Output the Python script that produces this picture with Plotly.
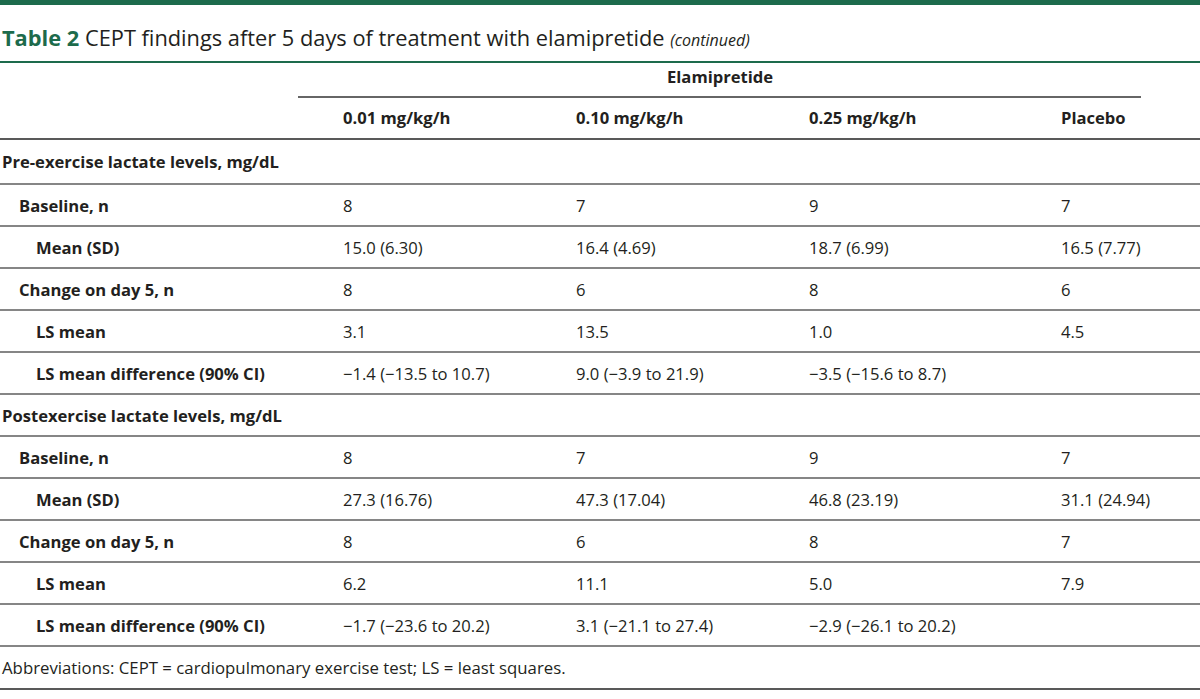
import plotly.graph_objects as go

# ---- data ----
title_label = "Table 2"
title_text = "CEPT findings after 5 days of treatment with elamipretide"
title_note = "(continued)"
group_header = "Elamipretide"
col_headers = ["0.01 mg/kg/h", "0.10 mg/kg/h", "0.25 mg/kg/h", "Placebo"]
row_labels = [
    "Pre-exercise lactate levels, mg/dL",
    "Baseline, n",
    "Mean (SD)",
    "Change on day 5, n",
    "LS mean",
    "LS mean difference (90% CI)",
    "Postexercise lactate levels, mg/dL",
    "Baseline, n",
    "Mean (SD)",
    "Change on day 5, n",
    "LS mean",
    "LS mean difference (90% CI)",
]
row_indent = [0, 1, 2, 1, 2, 2, 0, 1, 2, 1, 2, 2]
col_001 = ["", "8", "15.0 (6.30)", "8", "3.1", "\u22121.4 (\u221213.5 to 10.7)",
           "", "8", "27.3 (16.76)", "8", "6.2", "\u22121.7 (\u221223.6 to 20.2)"]
col_010 = ["", "7", "16.4 (4.69)", "6", "13.5", "9.0 (\u22123.9 to 21.9)",
           "", "7", "47.3 (17.04)", "6", "11.1", "3.1 (\u221221.1 to 27.4)"]
col_025 = ["", "9", "18.7 (6.99)", "8", "1.0", "\u22123.5 (\u221215.6 to 8.7)",
           "", "9", "46.8 (23.19)", "8", "5.0", "\u22122.9 (\u221226.1 to 20.2)"]
col_placebo = ["", "7", "16.5 (7.77)", "6", "4.5", "",
               "", "7", "31.1 (24.94)", "7", "7.9", ""]
footnote = "Abbreviations: CEPT = cardiopulmonary exercise test; LS = least squares."

# ---- styling / layout ----
GREEN = "#1d6b4c"
TEXT = "#231f20"
FONT = "Open Sans"
FS = 16.6
col_x = [341, 574, 807, 1059]
indent_px = [0, 17, 34]
header_line_y = 139
row_h = 42
first_line_y = 184

fig = go.Figure()
fig.add_trace(go.Scatter(x=[0, 1200], y=[0, 699], mode="markers",
                         marker=dict(opacity=0), hoverinfo="skip", showlegend=False))

shapes = []
ann = []

def hline(y, x0=0, x1=1200, color="#5e5e5e", width=1.6):
    shapes.append(dict(type="line", xref="x", yref="y", x0=x0, x1=x1, y0=y, y1=y,
                       line=dict(color=color, width=width)))

# top bar
shapes.append(dict(type="rect", xref="x", yref="y", x0=0, x1=1200, y0=0, y1=5,
                   fillcolor=GREEN, line=dict(width=0)))
hline(62, color=GREEN, width=2)
hline(97, x0=298, x1=1141, color="#333333", width=1.5)
hline(header_line_y, color="#222222", width=1.5)

# title
ann.append(dict(x=0, y=37, xanchor="left", yanchor="middle",
                text=f"<b><span style='color:{GREEN}'>{title_label}</span></b> "
                     f"<span style='color:{TEXT}'>{title_text}</span> "
                     f"<i><span style='font-size:16px;color:{TEXT}'>{title_note}</span></i>",
                font=dict(family=FONT, size=21.8, color=TEXT), showarrow=False))
ann.append(dict(x=720, y=76, xanchor="center", yanchor="middle",
                text=f"<b>{group_header}</b>", font=dict(family=FONT, size=FS, color=TEXT),
                showarrow=False))
for cx, h in zip(col_x, col_headers):
    ann.append(dict(x=cx, y=117, xanchor="left", yanchor="middle", text=f"<b>{h}</b>",
                    font=dict(family=FONT, size=FS, color=TEXT), showarrow=False))

cols = [col_001, col_010, col_025, col_placebo]
for i, lab in enumerate(row_labels):
    top = header_line_y if i == 0 else first_line_y + (i - 1) * row_h
    bot = first_line_y + i * row_h
    cy = (top + bot) / 2
    hline(bot)
    ann.append(dict(x=indent_px[row_indent[i]], y=cy, xanchor="left", yanchor="middle",
                    text=f"<b>{lab}</b>", font=dict(family=FONT, size=FS, color=TEXT),
                    showarrow=False))
    for cx, col in zip(col_x, cols):
        if col[i]:
            ann.append(dict(x=cx, y=cy, xanchor="left", yanchor="middle", text=col[i],
                            font=dict(family=FONT, size=FS, color=TEXT), showarrow=False))

last_y = first_line_y + (len(row_labels) - 1) * row_h
foot_line = last_y + row_h + 1
ann.append(dict(x=0, y=(last_y + foot_line) / 2, xanchor="left", yanchor="middle",
                text=footnote, font=dict(family=FONT, size=16.8, color=TEXT), showarrow=False))
hline(foot_line, color="#222222", width=1.5)

fig.update_layout(
    width=1200, height=699, margin=dict(l=0, r=0, t=0, b=0),
    paper_bgcolor="white", plot_bgcolor="white",
    xaxis=dict(range=[0, 1200], visible=False, fixedrange=True),
    yaxis=dict(range=[699, 0], visible=False, fixedrange=True),
    shapes=shapes, annotations=ann, showlegend=False,
)
fig.write_html("out.html", config={"displayModeBar": False})

# remove default page margin so the figure sits at the window origin
with open("out.html", "r", encoding="utf-8") as f:
    html = f.read()
html = html.replace("<body>", "<body style=\"margin:0;padding:0;overflow:hidden\">", 1)
with open("out.html", "w", encoding="utf-8") as f:
    f.write(html)
